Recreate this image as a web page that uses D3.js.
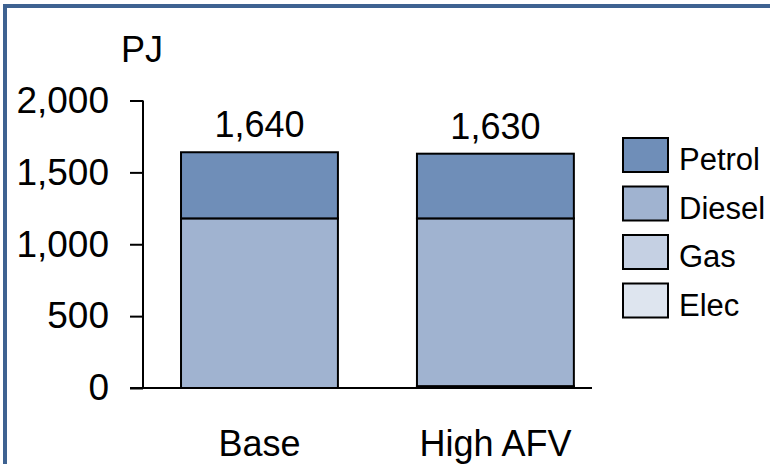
<!DOCTYPE html>
<html>
<head>
<meta charset="utf-8">
<script src="https://cdn.jsdelivr.net/npm/d3@7"></script>
<style>
  html, body { margin: 0; padding: 0; background: #fff; }
  svg { display: block; font-family: "Liberation Sans", Arial, sans-serif; }
</style>
</head>
<body>
<svg id="chart" width="770" height="464"></svg>
<script>
const categories = ["Base", "High AFV"];
const seriesNames = ["Elec", "Gas", "Diesel", "Petrol"];
const elec   = [0, 5];
const gas    = [0, 8];
const diesel = [1180, 1167];
const petrol = [460, 450];
const totalLabels = ["1,640", "1,630"];
const yTicks = [0, 500, 1000, 1500, 2000];
const legendOrder = ["Petrol", "Diesel", "Gas", "Elec"];
const colors = { Petrol: "#6f8eb8", Diesel: "#a0b3d0", Gas: "#c5d0e3", Elec: "#dee5ef" };

const rows = categories.map((c, i) => ({
  cat: c, Elec: elec[i], Gas: gas[i], Diesel: diesel[i], Petrol: petrol[i], label: totalLabels[i]
}));

const svg = d3.select("#chart");

// outer frame
svg.append("rect")
  .attr("x", 5).attr("y", 6).attr("width", 800).attr("height", 500)
  .attr("fill", "none").attr("stroke", "#3e6291").attr("stroke-width", 4);

const y = d3.scaleLinear().domain([0, 2000]).range([388, 100.5]);
const x = d3.scaleBand().domain(categories).range([143, 592])
  .paddingInner(0.335).paddingOuter(0.119).align(0.677);

const stack = d3.stack().keys(seriesNames)(rows);

const g = svg.append("g");
stack.forEach(layer => {
  g.selectAll(null).data(layer).enter().append("rect")
    .attr("x", d => x(d.data.cat))
    .attr("width", x.bandwidth())
    .attr("y", d => y(d[1]))
    .attr("height", d => Math.max(0, y(d[0]) - y(d[1])))
    .attr("fill", colors[layer.key])
    .attr("stroke", "#000")
    .attr("stroke-width", 2);
});

// y axis
const yAxis = svg.append("g")
  .attr("transform", "translate(143,0)")
  .call(d3.axisLeft(y).tickValues(yTicks).tickSize(13).tickPadding(21)
    .tickFormat(d3.format(",")));
yAxis.select(".domain").remove();
yAxis.selectAll(".tick line").attr("stroke", "#000").attr("stroke-width", 2);
yAxis.selectAll(".tick text").attr("font-size", 37).attr("fill", "#000")
  .attr("font-family", "Liberation Sans, Arial, sans-serif");
svg.append("line").attr("x1", 143).attr("x2", 143).attr("y1", 100.5).attr("y2", 389)
  .attr("stroke", "#000").attr("stroke-width", 2);

// x axis
const xAxis = svg.append("g")
  .attr("transform", "translate(0,388)")
  .call(d3.axisBottom(x).tickSize(0).tickPadding(42));
xAxis.select(".domain").attr("stroke", "#000").attr("stroke-width", 2)
  .attr("d", "M130,0H592");
xAxis.selectAll(".tick text").attr("font-size", 36).attr("fill", "#000")
  .attr("font-family", "Liberation Sans, Arial, sans-serif");

// total labels
svg.selectAll(".tot").data(rows).enter().append("text")
  .attr("class", "tot")
  .attr("x", d => x(d.cat) + x.bandwidth() / 2)
  .attr("y", d => y(d.Elec + d.Gas + d.Diesel + d.Petrol) - 15)
  .attr("text-anchor", "middle")
  .attr("font-size", 36)
  .text(d => d.label);

// unit label
svg.append("text").attr("x", 121).attr("y", 62).attr("font-size", 36).text("PJ");

// legend
const lg = svg.append("g");
legendOrder.forEach((k, i) => {
  const top = 138 + i * 48.5;
  lg.append("rect").attr("x", 623).attr("y", top).attr("width", 45).attr("height", 34)
    .attr("fill", colors[k]).attr("stroke", "#000").attr("stroke-width", 2);
  lg.append("text").attr("x", 679).attr("y", top + 32).attr("font-size", 31).text(k);
});
</script>
</body>
</html>
